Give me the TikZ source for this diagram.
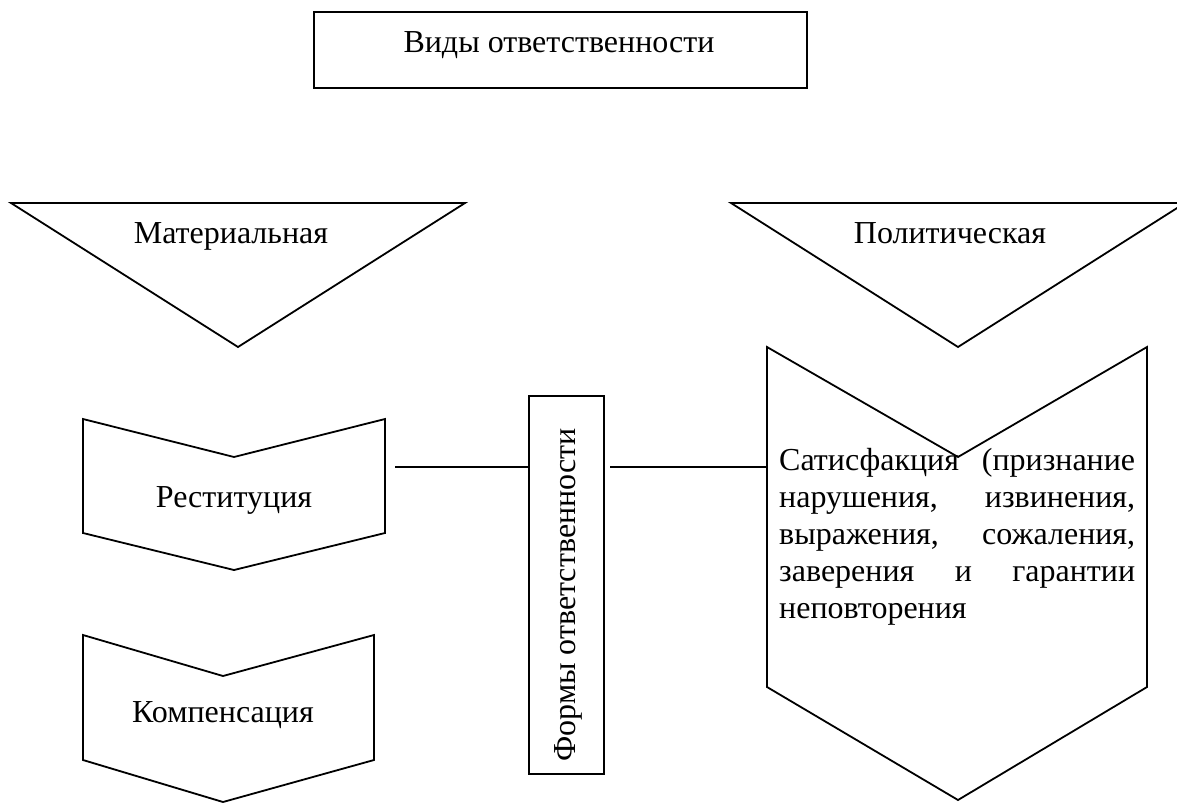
\documentclass[tikz,border=0pt]{standalone}
\usepackage{fontspec}
\setmainfont{Liberation Serif}
\begin{document}
\begin{tikzpicture}[x=1pt,y=-1pt,
  outl/.style={draw=black,line width=1.8pt,line join=miter},
  lbl/.style={inner sep=0pt,font=\fontsize{32}{37}\selectfont},
  conn/.style={draw=black,line width=1.8pt}]
\useasboundingbox (0,0) rectangle (1177,803);
\clip (0,0) rectangle (1177,803);
% top box
\node[outl,minimum width=493pt,minimum height=76pt,inner sep=0pt,anchor=north west] (vidy) at (313,11) {};
\node[lbl,anchor=base] (vidyt) at (559,52) {Виды ответственности};
% triangles
\draw[outl] (11,203) -- (465,203) -- (238,347) -- cycle;
\node[lbl,anchor=base] (mat) at (231,243) {Материальная};
\draw[outl] (731,203) -- (1185,203) -- (958,347) -- cycle;
\node[lbl,anchor=base] (pol) at (950,243) {Политическая};
% restitution chevron
\draw[outl] (83,419) -- (234,457) -- (385,419) -- (385,533) -- (234,570) -- (83,533) -- cycle;
\node[lbl,anchor=base] (rest) at (234,507) {Реституция};
\coordinate (restR) at (395,467);
% compensation chevron
\draw[outl] (83,635) -- (223,676) -- (374,635) -- (374,760) -- (223,802) -- (83,760) -- cycle;
\node[lbl,anchor=base] (komp) at (223,722) {Компенсация};
% forms box
\node[outl,minimum width=75pt,minimum height=378pt,inner sep=0pt,anchor=north west] (forms) at (528,395) {};
\node[lbl,rotate=90,anchor=center] (formst) at (568,595) {Формы ответственности};
% satisfaction chevron
\draw[outl] (767,347) -- (958,457) -- (1147,347) -- (1147,687) -- (958,800) -- (767,687) -- cycle;
\coordinate (satL) at (768,467);
\coordinate (formsR) at (610,467);
\node[lbl,anchor=base west] (sat) at (779,470) {\parbox[t]{356pt}{\fontsize{32}{37}\selectfont
\makebox[356pt][s]{Сатисфакция (признание}\\
\makebox[356pt][s]{нарушения, извинения,}\\
\makebox[356pt][s]{выражения, сожаления,}\\
\makebox[356pt][s]{заверения и гарантии}\\
неповторения}};
% connectors
\draw[conn] (restR) -- (forms.west |- restR);
\draw[conn] (formsR) -- (satL);
\end{tikzpicture}
\end{document}
